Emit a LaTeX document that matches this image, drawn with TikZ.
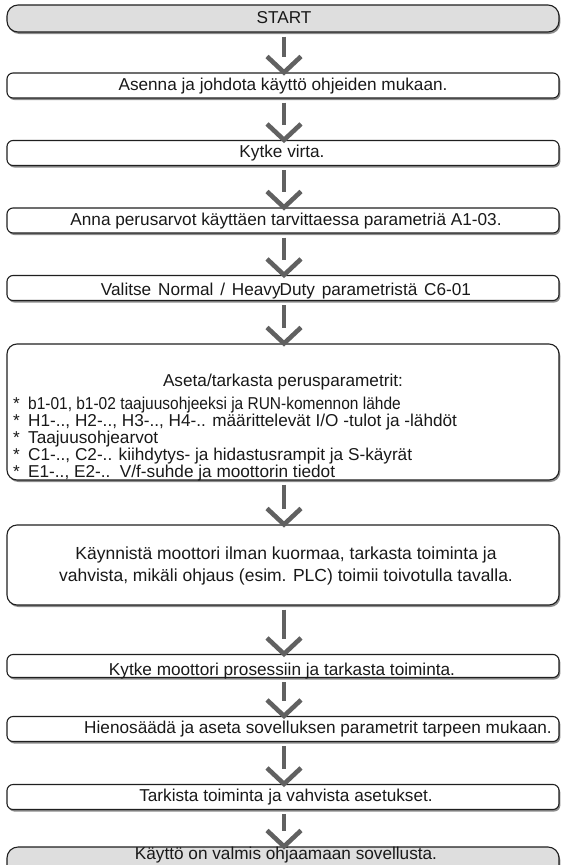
\documentclass[tikz,border=0pt]{standalone}
\usepackage{fontspec}
\usepackage{graphicx}
\setmainfont{Liberation Sans}
\usetikzlibrary{shadows}
\begin{document}
\begin{tikzpicture}[x=1pt,y=1pt,
  box/.style={draw=black!88, line width=1.1pt, rounded corners=6pt, fill=white,
    minimum width=552pt, inner sep=0pt,
    drop shadow={shadow xshift=1.3pt, shadow yshift=-2pt, fill=black!45, opacity=1}},
  term/.style={box, fill=black!13, rounded corners=11pt},
  txt/.style={font=\fontsize{17.2}{18}\selectfont, inner sep=0pt, text=black!90},
  stemline/.style={draw=black!62, line width=4.2pt},
  chev/.style={draw=black!62, line width=4.6pt, miter limit=10}]
\useasboundingbox (0,0) rectangle (562,-865);
% boxes
\node[term, minimum height=27pt] (s)  at (283,-18.5) {};
\node[box,  minimum height=25pt] (b1) at (283,-85.5) {};
\node[box,  minimum height=25pt] (b2) at (283,-153) {};
\node[box,  minimum height=25pt] (b3) at (283,-220.5) {};
\node[box,  minimum height=25pt] (b4) at (283,-288) {};
\node[box,  minimum height=136pt, rounded corners=10pt] (b5) at (283,-412) {};
\node[box,  minimum height=80pt, rounded corners=10pt] (b6) at (283,-565) {};
\node[box,  minimum height=23pt] (b7) at (283,-666) {};
\node[box,  minimum height=25pt] (b8) at (283,-729) {};
\node[box,  minimum height=25pt] (b9) at (283,-797) {};
\node[term, minimum height=30pt] (e)  at (283,-862) {};
% texts
\node[txt] (ts) at (284,-17.5) {START};
\node[txt] (t1) at (283,-86) {Asenna ja johdota käyttö ohjeiden mukaan.};
\node[txt] (t2) at (282,-153) {Kytke virta.};
\node[txt] (t3) at (286,-221) {Anna perusarvot käyttäen tarvittaessa parametriä A1-03.};
\node[txt] (t4) at (286,-291) {\spaceskip=6.8pt Valitse Normal / Heavy\kern-1pt Duty parametristä C6-01};
\node[txt] (t5) at (283,-382) {Aseta/tarkasta perusparametrit:};
\node[txt, anchor=north west, align=left, font=\fontsize{17.2}{17}\selectfont] (t5l) at (10,-397) {%
  \makebox[18pt][l]{\,*}\scalebox{0.9}[1]{b1-01, b1-02 taajuusohjeeksi ja RUN-komennon lähde}\\
  \makebox[18pt][l]{\,*}H1-.., H2-.., H3-.., H4-.. määrittelevät I/O -tulot ja -lähdöt\\
  \makebox[18pt][l]{\,*}Taajuusohjearvot\\
  \makebox[18pt][l]{\,*}C1-.., C2-.. kiihdytys- ja hidastusrampit ja S-käyrät\\
  \makebox[18pt][l]{\,*}E1-.., E2-..\ \ V/f-suhde ja moottorin tiedot};
\node[txt, align=center, font=\fontsize{17.5}{22}\selectfont] (t6) at (286,-566) {Käynnistä moottori ilman kuormaa, tarkasta toiminta ja\\
  vahvista, mikäli ohjaus (esim. PLC) toimii toivotulla tavalla.};
\node[txt] (t7) at (282,-671) {Kytke moottori prosessiin ja tarkasta toiminta.};
\node[txt] (t8) at (318,-729) {Hienosäädä ja aseta sovelluksen parametrit tarpeen mukaan.};
\node[txt] (t9) at (286,-797) {Tarkista toiminta ja vahvista asetukset.};
\node[txt] (te) at (286,-855) {Käyttö on valmis ohjaamaan sovellusta.};
% connectors
\foreach \a/\b in {s/b1,b1/b2,b2/b3,b3/b4,b4/b5,b5/b6,b6/b7,b7/b8,b8/b9,b9/e}{
  \draw[stemline] ([xshift=1pt,yshift=-4pt]\a.south) -- ([xshift=1pt,yshift=15pt]\b.north);
  \draw[chev] ([xshift=-16pt,yshift=16pt]\b.north) -- ([xshift=1pt]\b.north) -- ([xshift=18pt,yshift=16pt]\b.north);
}
\end{tikzpicture}
\end{document}
